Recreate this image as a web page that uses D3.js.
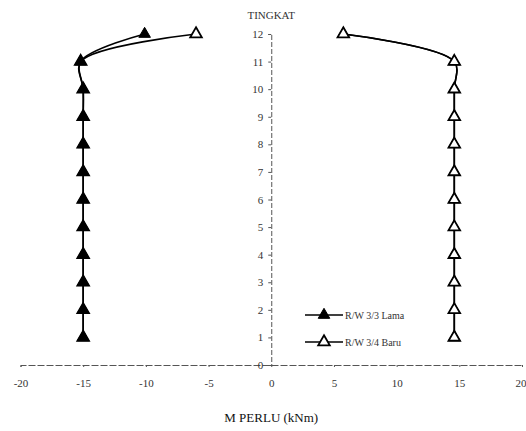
<!DOCTYPE html>
<html><head><meta charset="utf-8">
<script src="https://cdn.jsdelivr.net/npm/d3@7"></script>
<style>body{margin:0;background:#fff}svg{display:block}</style>
</head><body>
<script>
const floors = [1,2,3,4,5,6,7,8,9,10,11,12];
const lamaNeg = [-15,-15,-15,-15,-15,-15,-15,-15,-15,-15,-15.2,-10.1];
const baruNeg = [-15,-15,-15,-15,-15,-15,-15,-15,-15,-15,-15.2,-6.0];
const lamaPos = [14.6,14.6,14.6,14.6,14.6,14.6,14.6,14.6,14.6,14.6,14.6,5.75];
const baruPos = [14.6,14.6,14.6,14.6,14.6,14.6,14.6,14.6,14.6,14.6,14.6,5.75];
const xTicks = [-20,-15,-10,-5,0,5,10,15,20];
const yTicks = [0,1,2,3,4,5,6,7,8,9,10,11,12];
const seriesNames = ["R/W 3/3 Lama","R/W 3/4 Baru"];

const W=526,H=431;
const svg=d3.select("body").append("svg").attr("width",W).attr("height",H);
const font="'Liberation Serif','Times New Roman',serif";
const x=d3.scaleLinear().domain([-20,20]).range([20.5,522]);
const y=d3.scaleLinear().domain([0,12]).range([365,34]);
const axCol="#555";

// x axis
const gx=svg.append("g").attr("transform",`translate(0,${y(0)})`)
  .call(d3.axisBottom(x).tickValues(xTicks).tickSize(2).tickPadding(12).tickFormat(d=>String(d)));
gx.select(".domain").attr("stroke",axCol).attr("stroke-dasharray","7,2");
gx.selectAll(".tick line").attr("stroke",axCol);
gx.selectAll("text").attr("font-family",font).attr("font-size",11).attr("fill","#333");
gx.selectAll(".tick text").filter(d=>d===20).attr("text-anchor","end").attr("dx",4);

// y axis
const gy=svg.append("g").attr("transform",`translate(${x(0)},0)`)
  .call(d3.axisLeft(y).tickValues(yTicks).tickSize(3).tickPadding(5).tickFormat(d=>String(d)));
gy.select(".domain").attr("stroke",axCol).attr("stroke-dasharray","5,2");
gy.selectAll(".tick line").attr("stroke",axCol);
gy.selectAll("text").attr("font-family",font).attr("font-size",11).attr("fill","#333");

svg.append("text").attr("x",x(0)).attr("y",19).attr("text-anchor","middle")
  .attr("font-family",font).attr("font-size",11).attr("fill","#333").text("TINGKAT");
svg.append("text").attr("x",x(0)).attr("y",422).attr("text-anchor","middle")
  .attr("font-family",font).attr("font-size",13).attr("fill","#111").text("M PERLU (kNm)");

const line=d3.line().x(d=>x(d[0])).y(d=>y(d[1])).curve(d3.curveCatmullRom.alpha(0.5));
const tri=d3.symbol().type(d3.symbolTriangle).size(58);

function drawSeries(vals, filled){
  const pts=vals.map((v,i)=>[v,floors[i]]);
  svg.append("path").datum(pts).attr("d",line).attr("fill","none").attr("stroke","#000").attr("stroke-width",1.6);
  svg.append("g").selectAll("path").data(pts).join("path")
    .attr("d",tri).attr("transform",d=>`translate(${x(d[0])},${y(d[1])})`)
    .attr("fill",filled?"#000":"#fff").attr("stroke","#000").attr("stroke-width",filled?1:1.8);
}
drawSeries(lamaPos,true);
drawSeries(baruPos,false);
drawSeries(baruNeg,false);
drawSeries(lamaNeg,true);

// legend
const lg=svg.append("g");
seriesNames.forEach((n,i)=>{
  const ly=315+i*27;
  lg.append("line").attr("x1",305).attr("x2",343).attr("y1",ly).attr("y2",ly).attr("stroke","#000").attr("stroke-width",1.6);
  lg.append("path").attr("d",tri).attr("transform",`translate(324,${ly})`)
    .attr("fill",i===0?"#000":"#fff").attr("stroke","#000").attr("stroke-width",i===0?1:1.8);
  lg.append("text").attr("x",345).attr("y",ly+3.5).attr("font-family",font).attr("font-size",10).attr("fill","#333").text(n);
});
</script>
</body></html>
